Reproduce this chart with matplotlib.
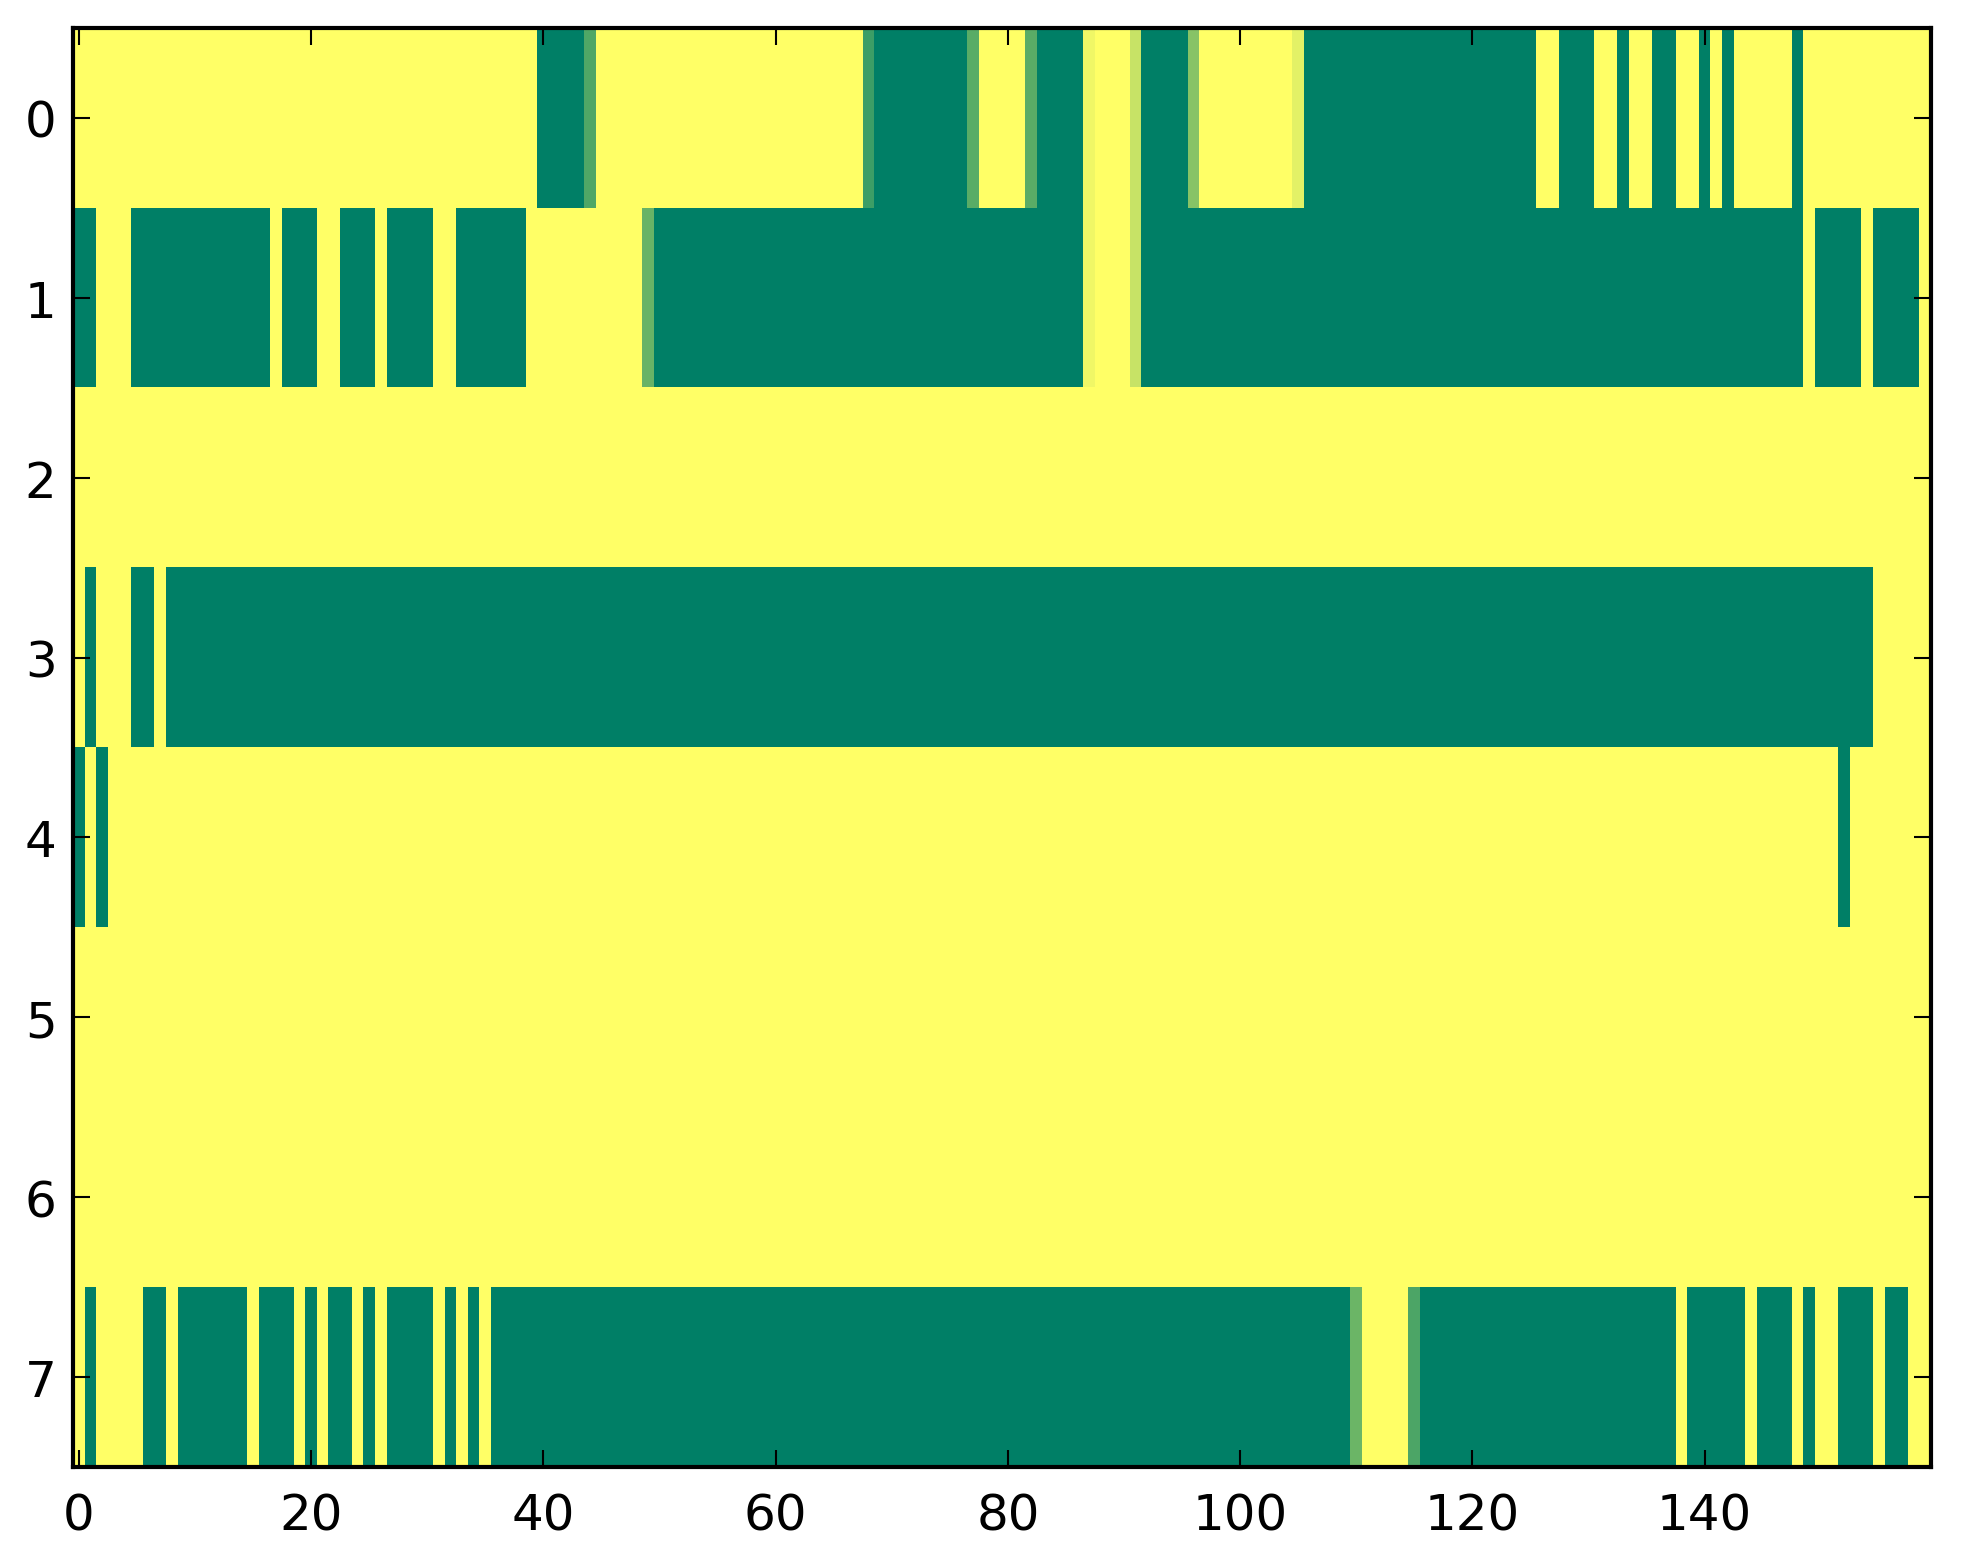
import matplotlib
matplotlib.use("Agg")
import matplotlib.pyplot as plt
import numpy as np

n_cols = 160
n_rows = 8

# green (value 0) stretches per row, inclusive column ranges
green_runs = {
    0: [(40, 43), (69, 76), (83, 86), (92, 95), (106, 125), (128, 130), (133, 133),
        (136, 137), (140, 140), (142, 142), (148, 148)],
    1: [(0, 1), (5, 16), (18, 20), (23, 25), (27, 30), (33, 38), (50, 86), (92, 148),
        (150, 153), (155, 158)],
    2: [],
    3: [(1, 1), (5, 6), (8, 154)],
    4: [(0, 0), (2, 2), (152, 152)],
    5: [],
    6: [],
    7: [(1, 1), (6, 7), (9, 14), (16, 18), (20, 20), (22, 23), (25, 25), (27, 30),
        (32, 32), (34, 34), (36, 109), (116, 137), (139, 143), (145, 147), (149, 149),
        (152, 154), (156, 157)],
}

# in-between values seen as lighter greens
mixed_cells = {
    0: {44: 0.31, 68: 0.24, 77: 0.35, 82: 0.35, 87: 0.94, 91: 0.78, 96: 0.53, 105: 0.89},
    1: {49: 0.41, 87: 0.94, 91: 0.78},
    7: {110: 0.42, 115: 0.30},
}

grid = np.ones((n_rows, n_cols))
for r, runs in green_runs.items():
    for a, b in runs:
        grid[r, a:b + 1] = 0.0
for r, cells in mixed_cells.items():
    for c, v in cells.items():
        grid[r, c] = v

plt.rcParams['font.family'] = 'DejaVu Sans'
plt.rcParams['font.size'] = 12

fig = plt.figure(figsize=(1963 / 300, 1564 / 300), dpi=300)
ax = fig.add_axes([73.2 / 1963, 1 - 1468 / 1564, (1931 - 73.2) / 1963, (1468 - 29) / 1564])
ax.imshow(grid, cmap='summer', vmin=0, vmax=1, aspect='auto', interpolation='nearest')

ax.set_xticks(np.arange(0, 141, 20))
ax.set_yticks(np.arange(0, 8))
ax.tick_params(direction='in', length=4, width=0.5, top=True, right=True)
ax.tick_params(axis='x', pad=6)
ax.tick_params(axis='y', pad=4)
for s in ax.spines.values():
    s.set_linewidth(1.0)

fig.savefig('out.png', dpi=300)
